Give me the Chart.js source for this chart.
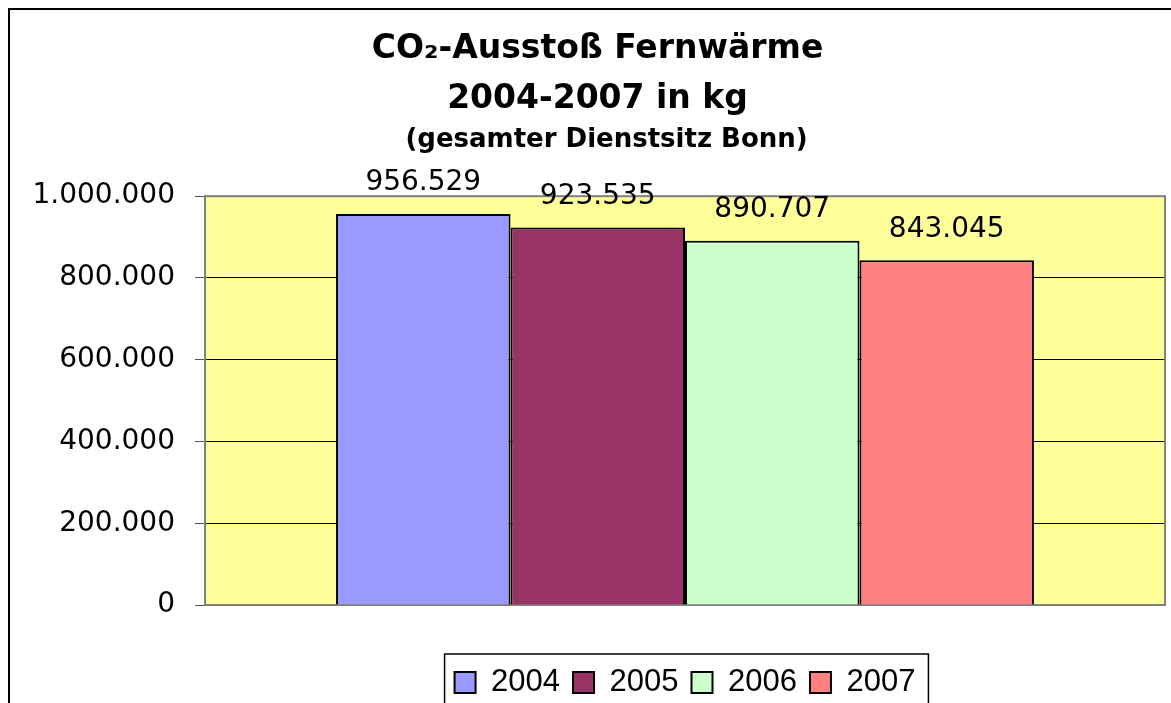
<!DOCTYPE html>
<html>
<head>
<meta charset="utf-8">
<script src="https://cdn.jsdelivr.net/npm/chart.js@4.4.1/dist/chart.umd.min.js"></script>
<style>
  html,body{margin:0;padding:0;background:#fff;}
  #wrap{width:1171px;height:703px;position:relative;}
</style>
</head>
<body>
<div id="wrap"><canvas id="co2"></canvas></div>
<script>
// data
const years = ["2004", "2005", "2006", "2007"];
const values = [956529, 923535, 890707, 843045];
const colors = ["#9999FF", "#993366", "#CCFFCC", "#FF8080"];
const yTicks = [0, 200000, 400000, 600000, 800000, 1000000];
const titleLines = ["CO\u2082-Ausstoß Fernwärme", "2004-2007 in kg"];
const subTitle = "  (gesamter Dienstsitz Bonn)";

function fmt(v){
  return String(Math.round(v)).replace(/\B(?=(\d{3})+(?!\d))/g, ".");
}

const frame = {
  id: "frame",
  beforeDraw(chart){
    const ctx = chart.ctx, a = chart.chartArea;
    ctx.save();
    ctx.fillStyle = "#fff";
    ctx.fillRect(0, 0, chart.width, chart.height);
    ctx.fillStyle = "#FFFF99";
    ctx.fillRect(a.left, a.top, a.right - a.left, a.bottom - a.top);
    ctx.restore();
  },
  beforeDatasetsDraw(chart){
    const ctx = chart.ctx, a = chart.chartArea;
    ctx.save();
    ctx.strokeStyle = "#808080";
    ctx.lineWidth = 2;
    ctx.strokeRect(a.left, a.top, a.right - a.left, a.bottom - a.top);
    ctx.restore();
  },
  afterDraw(chart){
    const ctx = chart.ctx;
    ctx.save();
    ctx.strokeStyle = "#000";
    ctx.lineWidth = 2;
    ctx.beginPath();
    ctx.moveTo(9, chart.height + 5);
    ctx.lineTo(9, 9);
    ctx.lineTo(chart.width + 5, 9);
    ctx.stroke();
    // legend box
    const lg = chart.legend;
    if (lg && lg.legendHitBoxes && lg.legendHitBoxes.length){
      const hb = lg.legendHitBoxes;
      const l = Math.min(...hb.map(h => h.left)) - 10;
      const r = Math.max(...hb.map(h => h.left + h.width)) + 13;
      const t = hb[0].top - 13;
      ctx.lineWidth = 1.5;
      ctx.strokeStyle = "#000";
      ctx.strokeRect(l, t, r - l, chart.height + 20 - t);
    }
    ctx.restore();
  },
  afterDatasetsDraw(chart){
    const ctx = chart.ctx;
    ctx.save();
    ctx.fillStyle = "#000";
    ctx.font = "28px 'DejaVu Sans'";
    ctx.textAlign = "center";
    ctx.textBaseline = "middle";
    chart.data.datasets.forEach((ds, i) => {
      const meta = chart.getDatasetMeta(i);
      meta.data.forEach((bar, j) => {
        ctx.fillText(fmt(ds.data[j]), bar.x, bar.y - 31);
      });
    });
    ctx.restore();
  }
};

new Chart(document.getElementById("co2").getContext("2d"), {
  type: "bar",
  data: {
    labels: [""],
    datasets: years.map((y, i) => ({
      label: y,
      data: [values[i]],
      backgroundColor: colors[i],
      borderColor: "#000",
      borderWidth: 2,
      barPercentage: 1,
      categoryPercentage: 0.727
    }))
  },
  options: {
    responsive: true,
    maintainAspectRatio: false,
    animation: false,
    layout: { padding: { left: 30, right: 6, top: 0, bottom: -5 } },
    plugins: {
      title: {
        display: true,
        text: titleLines,
        color: "#000",
        font: { family: "'DejaVu Sans'", size: 33, weight: "bold", lineHeight: 1.515 },
        padding: { top: 24, bottom: 0 }
      },
      subtitle: {
        display: true,
        text: subTitle,
        color: "#000",
        font: { family: "'DejaVu Sans'", size: 26, weight: "bold", lineHeight: 1.2 },
        padding: { top: 1, bottom: 40 }
      },
      legend: {
        position: "bottom",
        fullSize: false,
        labels: {
          color: "#000",
          font: { family: "'Liberation Sans'", size: 31, lineHeight: 1 },
          boxWidth: 21,
          boxHeight: 21,
          padding: 13
        }
      },
      tooltip: { enabled: false }
    },
    scales: {
      x: {
        display: true,
        grid: { display: false, drawTicks: false },
        border: { display: false },
        ticks: { display: false },
        afterFit(s){ s.height = 49; }
      },
      y: {
        min: 0,
        max: 1000000,
        afterBuildTicks(s){ s.ticks = yTicks.map(v => ({ value: v })); },
        afterFit(s){ s.width = 175; },
        grid: { color: "#000", lineWidth: 1, tickLength: 10, tickColor: "#555" },
        border: { display: true, color: "#808080", width: 2 },
        ticks: {
          color: "#000",
          padding: 20,
          font: { family: "'DejaVu Sans'", size: 28 },
          callback: v => fmt(v)
        }
      }
    }
  },
  plugins: [frame]
});
</script>
</body>
</html>
